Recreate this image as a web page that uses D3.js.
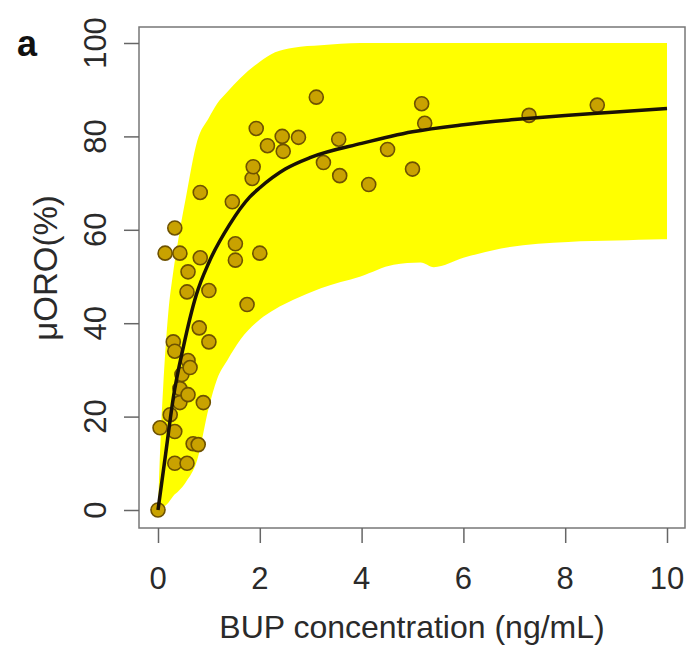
<!DOCTYPE html>
<html>
<head>
<meta charset="utf-8">
<script src="https://cdn.jsdelivr.net/npm/d3@7"></script>
<style>
  body { margin: 0; background: #fff; }
  text { font-family: "Liberation Sans", Arial, sans-serif; }
</style>
</head>
<body>
<div id="chart"></div>
<script>
// observed data (BUP concentration ng/mL, muORO %)
const obsConc = [0, 0.04, 0.14, 0.24, 0.3, 0.33, 0.33, 0.33, 0.33, 0.43, 0.43, 0.43, 0.47, 0.57, 0.57,
  0.59, 0.59, 0.59, 0.63, 0.69, 0.79, 0.81, 0.83, 0.83, 0.89, 1.0, 1.0, 1.46, 1.52, 1.52,
  1.75, 1.85, 1.87, 1.93, 2.0, 2.15, 2.44, 2.46, 2.76, 3.11, 3.25, 3.55, 3.57, 4.14, 4.51,
  5.0, 5.18, 5.24, 7.29, 8.63];
const obsOro = [0, 17.6, 55, 20.4, 36, 60.4, 34, 16.8, 10, 55, 26, 23, 29, 46.7, 10,
  51, 32, 24.7, 30.5, 14.2, 14, 39, 68, 54, 23, 47, 36, 66, 57, 53.5,
  44, 71, 73.5, 81.7, 55, 78, 80, 76.8, 79.8, 88.4, 74.4, 79.4, 71.6, 69.7, 77.2,
  73, 87, 82.8, 84.5, 86.7];

// fitted curve
const fitConc = [0, 0.15, 0.3, 0.5, 0.75, 1, 1.4, 1.8, 2, 2.5, 3, 4, 5, 6, 7, 8, 9, 10];
const fitOro = [0, 12, 24, 35, 46, 53, 61, 67, 69, 73, 75.5, 78.5, 81, 82.5, 83.6, 84.5, 85.2, 86];

// prediction band
const bandConc = [0, 0.05, 0.1, 0.2, 0.3, 0.4, 0.55, 0.77, 1.0, 1.16, 1.36, 1.62, 2.0, 2.3, 2.66, 3.2, 3.98, 4.63, 5.16, 5.42, 6.0, 6.74, 8.06, 9.0, 9.9, 10];
const bandHigh = [0, 15, 26, 42, 51, 58, 67, 79, 84, 87, 89.5, 92.5, 96, 98, 99, 99.5, 100, 100, 100, 100, 100, 100, 100, 100, 100, 100];
const bandLow = [0, 0, 0.5, 1.5, 3, 4, 6, 10.7, 22, 28, 32, 36.5, 40.8, 43, 45, 47.5, 50, 52.5, 53, 52, 54, 56, 57.4, 57.7, 58, 58];

const xTicks = [0, 2, 4, 6, 8, 10];
const yTicks = [0, 20, 40, 60, 80, 100];

const width = 687, height = 652;
const box = { left: 139, right: 685, top: 27, bottom: 528 };

const x = d3.scaleLinear().domain([0, 10]).range([158, 667]);
const y = d3.scaleLinear().domain([0, 100]).range([510, 43]);

const svg = d3.select("#chart").append("svg")
  .attr("width", width)
  .attr("height", height);

// band
const band = bandConc.map((c, i) => ({ c: c, lo: bandLow[i], hi: bandHigh[i] }));
svg.append("path")
  .datum(band)
  .attr("fill", "#ffff00")
  .attr("d", d3.area()
    .x(d => x(d.c))
    .y0(d => y(d.lo))
    .y1(d => y(d.hi))
    .curve(d3.curveMonotoneX));

// points
const pts = obsConc.map((c, i) => ({ c: c, v: obsOro[i] }));
svg.selectAll(".pt")
  .data(pts)
  .enter().append("circle")
  .attr("class", "pt")
  .attr("cx", d => x(d.c))
  .attr("cy", d => y(d.v))
  .attr("r", 7)
  .attr("fill", "#c9a200")
  .attr("stroke", "#6e5200")
  .attr("stroke-width", 1.6);

// fitted line
const fit = fitConc.map((c, i) => ({ c: c, v: fitOro[i] }));
svg.append("path")
  .datum(fit)
  .attr("fill", "none")
  .attr("stroke", "#1a1205")
  .attr("stroke-width", 3.5)
  .attr("d", d3.line().x(d => x(d.c)).y(d => y(d.v)).curve(d3.curveMonotoneX));

// frame
svg.append("rect")
  .attr("x", box.left).attr("y", box.top)
  .attr("width", box.right - box.left).attr("height", box.bottom - box.top)
  .attr("fill", "none")
  .attr("stroke", "#777")
  .attr("stroke-width", 1.5);

// x axis
const xAxis = svg.append("g")
  .attr("transform", "translate(0," + box.bottom + ")")
  .call(d3.axisBottom(x).tickValues(xTicks).tickSize(15).tickFormat(""));
xAxis.select(".domain").remove();
xAxis.selectAll("line").attr("stroke", "#666").attr("stroke-width", 1.5);

svg.selectAll(".xlab")
  .data(xTicks)
  .enter().append("text")
  .attr("class", "xlab")
  .attr("x", d => x(d))
  .attr("y", 589)
  .attr("text-anchor", "middle")
  .attr("font-size", "31px")
  .attr("fill", "#2a2a2a")
  .text(d => d);

// y axis (labels drawn vertical like R)
const yAxis = svg.append("g")
  .attr("transform", "translate(" + box.left + ",0)")
  .call(d3.axisLeft(y).tickValues(yTicks).tickSize(15).tickFormat(""));
yAxis.select(".domain").remove();
yAxis.selectAll("line").attr("stroke", "#666").attr("stroke-width", 1.5);

svg.selectAll(".ylab")
  .data(yTicks)
  .enter().append("text")
  .attr("class", "ylab")
  .attr("transform", d => "translate(106," + y(d) + ") rotate(-90)")
  .attr("text-anchor", "middle")
  .attr("font-size", "31px")
  .attr("fill", "#2a2a2a")
  .text(d => d);

// titles
svg.append("text")
  .attr("x", 412)
  .attr("y", 638)
  .attr("text-anchor", "middle")
  .attr("font-size", "32px")
  .attr("fill", "#2a2a2a")
  .text("BUP concentration (ng/mL)");

svg.append("text")
  .attr("transform", "translate(57,268) rotate(-90)")
  .attr("text-anchor", "middle")
  .attr("font-size", "33px")
  .attr("fill", "#2a2a2a")
  .text("μORO(%)");

svg.append("text")
  .attr("x", 17)
  .attr("y", 56)
  .attr("font-size", "36px")
  .attr("font-weight", "bold")
  .attr("fill", "#111")
  .text("a");
</script>
</body>
</html>
